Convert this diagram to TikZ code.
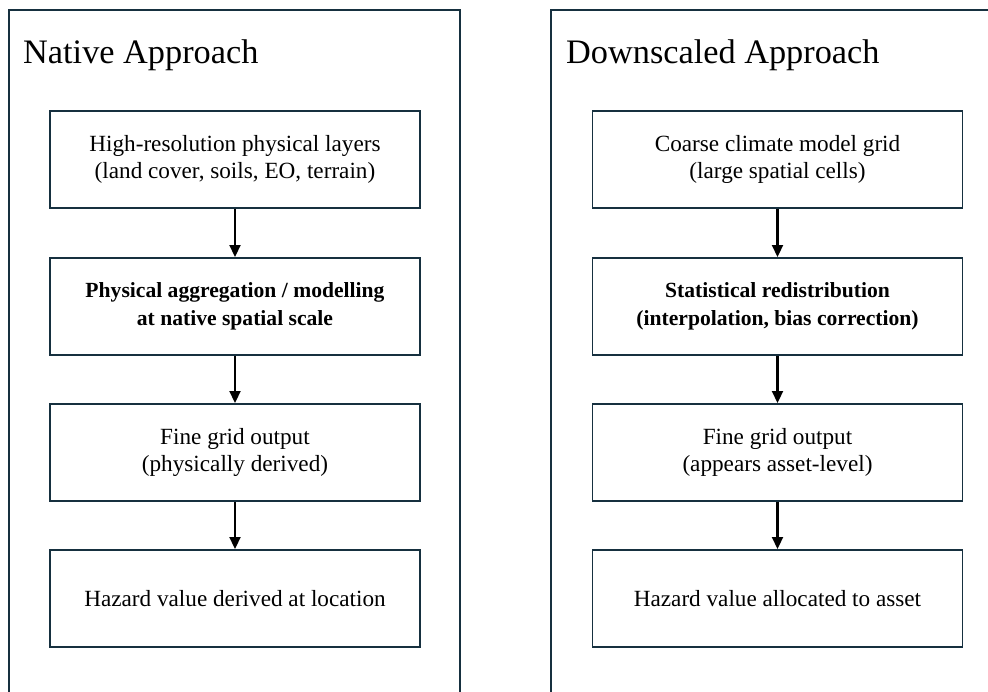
\documentclass[tikz,border=0pt]{standalone}
\usepackage{fontspec}
\setmainfont{Liberation Serif}
\usetikzlibrary{arrows.meta}
\definecolor{navy}{HTML}{16303F}
\begin{document}
\begin{tikzpicture}[x=1pt,y=-1pt,
  panel/.style={draw=navy,line width=2.2pt},
  box/.style={draw=navy,line width=1.8pt,minimum width=370pt,minimum height=97pt,
    inner sep=0pt,align=center,font=\fontsize{23.2}{27.5}\selectfont,anchor=north},
  boldbox/.style={box,font=\fontsize{21.6}{27.5}\selectfont\bfseries},
  flow/.style={-{Triangle[length=12pt,width=11pt]},line width=2.2pt,black},
  title/.style={anchor=base west,inner sep=0pt,font=\fontsize{34.3}{40}\selectfont}]
\useasboundingbox (0,0) rectangle (988,691);
\begin{scope}
  \clip (0,0) rectangle (988,691);
  \draw[panel] (9,10) rectangle (460,720);
  \draw[panel] (551,10) rectangle (1010,720);
\end{scope}
\node[title] (t1) at (23,63) {Native Approach};
\node[title] (t2) at (566,63) {Downscaled Approach};
% left column
\node[box] (a1) at (235,110) {High-resolution physical layers\\(land cover, soils, EO, terrain)};
\node[boldbox] (a2) at (235,257) {Physical aggregation / modelling\\at native spatial scale};
\node[box] (a3) at (235,403) {Fine grid output\\(physically derived)};
\node[box] (a4) at (235,549) {Hazard value derived at location};
% right column
\node[box] (b1) at (777.5,110) {Coarse climate model grid\\(large spatial cells)};
\node[boldbox] (b2) at (777.5,257) {Statistical redistribution\\(interpolation, bias correction)};
\node[box] (b3) at (777.5,403) {Fine grid output\\(appears asset-level)};
\node[box] (b4) at (777.5,549) {Hazard value allocated to asset};
\draw[flow] (a1.south) -- (a2.north);
\draw[flow] (a2.south) -- (a3.north);
\draw[flow] (a3.south) -- (a4.north);
\draw[flow] (b1.south) -- (b2.north);
\draw[flow] (b2.south) -- (b3.north);
\draw[flow] (b3.south) -- (b4.north);
\end{tikzpicture}
\end{document}
